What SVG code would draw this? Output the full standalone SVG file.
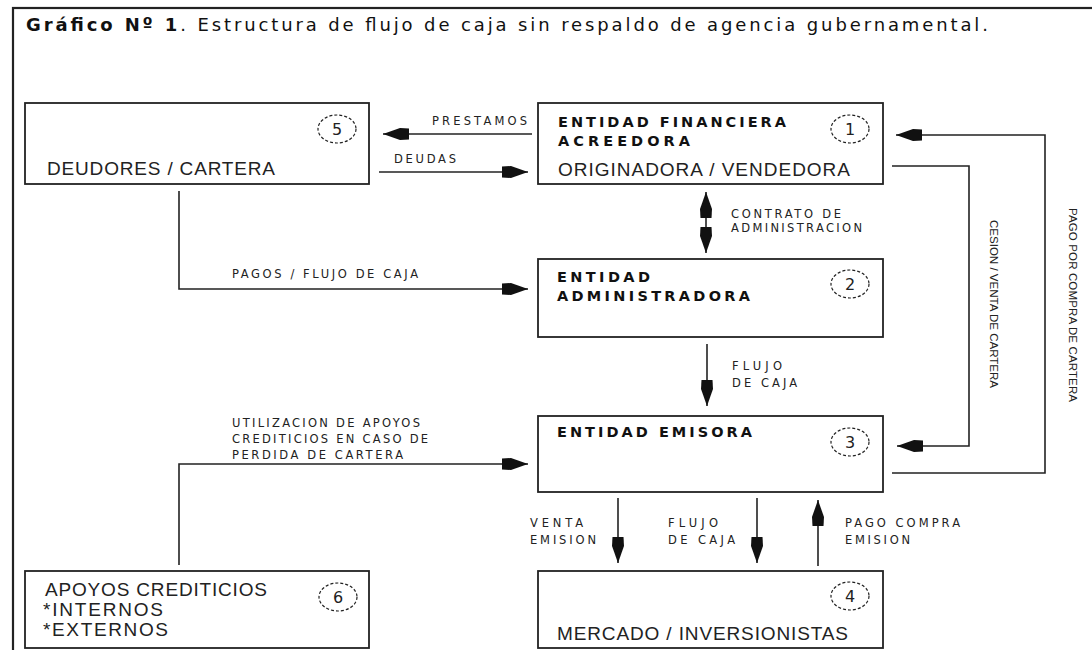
<svg xmlns="http://www.w3.org/2000/svg" width="1092" height="650" viewBox="0 0 1092 650">
<style>
.box{fill:#fff;stroke:#222;stroke-width:1.8}
.ln{fill:none;stroke:#222;stroke-width:1.6}
.num{fill:none;stroke:#222;stroke-width:1.2;stroke-dasharray:3 2}
.nt{font-family:"DejaVu Sans",sans-serif;font-size:16px;fill:#222;text-anchor:middle}
.big{font-family:"Liberation Sans",Arial,sans-serif;font-size:19px;fill:#222}
.bold{font-family:"DejaVu Sans",sans-serif;font-weight:bold;font-size:14.5px;fill:#111}
.lbl{font-family:"DejaVu Sans",sans-serif;font-size:11.5px;fill:#222}
.vl{font-family:"Liberation Sans",Arial,sans-serif;font-size:11.5px;fill:#222}
.title{font-family:"DejaVu Sans",sans-serif;font-size:18px;fill:#111}
</style>
<defs>
<marker id="ah" markerUnits="userSpaceOnUse" viewBox="0 0 28 16" markerWidth="28" markerHeight="16" refX="26" refY="8" orient="auto-start-reverse">
<path d="M0,2.5 L9,2 L26,8 L9,14 L0,13.5 Z" fill="#111"/>
</marker>
</defs>
<rect x="0" y="0" width="1092" height="650" fill="#fff"/>
<rect x="13" y="8" width="1200" height="700" fill="none" stroke="#222" stroke-width="2.2"/>
<text class="title" x="26" y="31" textLength="962"><tspan font-weight="bold">Gráfico Nº 1</tspan>. Estructura de flujo de caja sin respaldo de agencia gubernamental.</text>

<g id="connectors">
<path class="ln" d="M532,134 L383,134" marker-end="url(#ah)"/>
<text class="lbl" x="432" y="125" textLength="95">PRESTAMOS</text>
<path class="ln" d="M379,172 L528,172" marker-end="url(#ah)"/>
<text class="lbl" x="394" y="163" textLength="62">DEUDAS</text>
<path class="ln" d="M706,192 L706,253" marker-start="url(#ah)" marker-end="url(#ah)"/>
<text class="lbl" x="731" y="218" textLength="110">CONTRATO DE</text>
<text class="lbl" x="731" y="232" textLength="131">ADMINISTRACION</text>
<path class="ln" d="M179,191 L179,289 L528,289" marker-end="url(#ah)"/>
<text class="lbl" x="232" y="278" textLength="186">PAGOS / FLUJO DE CAJA</text>
<path class="ln" d="M707,344 L707,406" marker-end="url(#ah)"/>
<text class="lbl" x="732" y="370" textLength="50">FLUJO</text>
<text class="lbl" x="732" y="387" textLength="65">DE CAJA</text>
<path class="ln" d="M179,565 L179,464 L528,464" marker-end="url(#ah)"/>
<text class="lbl" x="232" y="427" textLength="188">UTILIZACION DE APOYOS</text>
<text class="lbl" x="232" y="443" textLength="196">CREDITICIOS EN CASO DE</text>
<text class="lbl" x="232" y="459" textLength="171">PERDIDA DE CARTERA</text>
<path class="ln" d="M892,166 L969,166 L969,446 L897,446" marker-end="url(#ah)"/>
<text class="vl" transform="translate(990,220) rotate(90)" textLength="168">CESION / VENTA DE CARTERA</text>
<path class="ln" d="M892,473 L1045,473 L1045,135 L896,135" marker-end="url(#ah)"/>
<text class="vl" transform="translate(1069,208) rotate(90)" textLength="194">PAGO POR COMPRA DE CARTERA</text>
<path class="ln" d="M618,498 L618,563" marker-end="url(#ah)"/>
<text class="lbl" x="530" y="527" textLength="53">VENTA</text>
<text class="lbl" x="530" y="544" textLength="66">EMISION</text>
<path class="ln" d="M757,498 L757,563" marker-end="url(#ah)"/>
<text class="lbl" x="668" y="527" textLength="50">FLUJO</text>
<text class="lbl" x="668" y="544" textLength="67">DE CAJA</text>
<path class="ln" d="M818,566 L818,500" marker-end="url(#ah)"/>
<text class="lbl" x="845" y="527" textLength="115">PAGO COMPRA</text>
<text class="lbl" x="845" y="544" textLength="65">EMISION</text>
</g>

<g id="node5">
<rect class="box" x="25" y="103" width="344" height="81"/>
<ellipse class="num" cx="337" cy="129" rx="19" ry="14"/>
<text class="nt" x="337" y="135">5</text>
<text class="big" x="47" y="175" textLength="228">DEUDORES / CARTERA</text>
</g>
<g id="node1">
<rect class="box" x="538" y="103" width="345" height="81"/>
<ellipse class="num" cx="850" cy="129" rx="19" ry="14"/>
<text class="nt" x="850" y="135">1</text>
<text class="bold" x="558" y="127" textLength="228">ENTIDAD FINANCIERA</text>
<text class="bold" x="558" y="146" textLength="132">ACREEDORA</text>
<text class="big" x="558" y="176" textLength="292">ORIGINADORA / VENDEDORA</text>
</g>
<g id="node2">
<rect class="box" x="538" y="259" width="345" height="78"/>
<ellipse class="num" cx="850" cy="284" rx="19" ry="14"/>
<text class="nt" x="850" y="290">2</text>
<text class="bold" x="557" y="282" textLength="93">ENTIDAD</text>
<text class="bold" x="557" y="301" textLength="193">ADMINISTRADORA</text>
</g>
<g id="node3">
<rect class="box" x="538" y="416" width="345" height="76"/>
<ellipse class="num" cx="850" cy="442" rx="19" ry="14"/>
<text class="nt" x="850" y="448">3</text>
<text class="bold" x="557" y="437" textLength="195">ENTIDAD EMISORA</text>
</g>
<g id="node4">
<rect class="box" x="538" y="571" width="345" height="77"/>
<ellipse class="num" cx="850" cy="596" rx="19" ry="14"/>
<text class="nt" x="850" y="602">4</text>
<text class="big" x="557" y="640" textLength="291">MERCADO / INVERSIONISTAS</text>
</g>
<g id="node6">
<rect class="box" x="25" y="571" width="344" height="77"/>
<ellipse class="num" cx="338" cy="597" rx="19" ry="14"/>
<text class="nt" x="338" y="603">6</text>
<text class="big" x="45" y="596" textLength="222">APOYOS CREDITICIOS</text>
<text class="big" x="43" y="616" textLength="120">*INTERNOS</text>
<text class="big" x="43" y="636" textLength="125">*EXTERNOS</text>
</g>
</svg>
